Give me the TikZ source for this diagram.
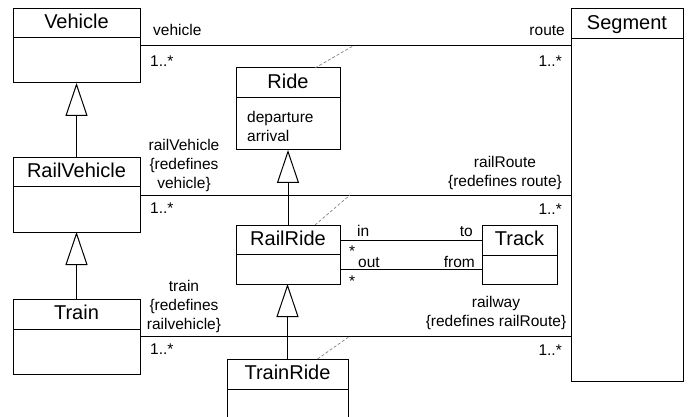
\documentclass[tikz,border=0pt]{standalone}
\usepackage{fontspec}
\setmainfont{Liberation Sans}
\usepackage{tikz}
\usetikzlibrary{positioning}
\usetikzlibrary{arrows.meta}

\newcommand{\umlname}{\fontsize{20}{24}\selectfont}
\newcommand{\umllabel}{\fontsize{15.5}{19}\selectfont}

\tikzset{
  classname/.style={draw, line width=1pt, inner sep=0pt, outer sep=0pt,
    minimum height=30pt, font=\umlname, text height=15pt, text depth=4pt},
  classbody/.style={draw, line width=1pt, inner sep=0pt, outer sep=0pt},
  role/.style={font=\umllabel, inner sep=0pt},
  assoc/.style={line width=1pt},
  inherit/.style={line width=1pt, -{Triangle[open, length=33pt, width=22pt]}},
  linkdash/.style={gray, line width=0.7pt, dash pattern=on 3pt off 2pt}
}

\begin{document}
\begin{tikzpicture}[x=1pt,y=-1pt]
  \useasboundingbox (0,0) rectangle (691,417);
  \clip (0,0) rectangle (691,417);

  % classes
  \node[classname, minimum width=127pt, minimum height=29pt] (vehhead) at (76.5,23.5) {Vehicle};
  \node[classbody, minimum width=127pt, minimum height=45pt, below=0pt of vehhead] (vehbody) {};
  \node[classname, minimum width=127pt, minimum height=29pt] (railvehhead) at (76.5,172.5) {RailVehicle};
  \node[classbody, minimum width=127pt, minimum height=45pt, below=0pt of railvehhead] (railvehbody) {};
  \node[classname, minimum width=127pt] (trainhead) at (76.5,314) {Train};
  \node[classbody, minimum width=127pt, minimum height=45pt, below=0pt of trainhead] (trainbody) {};

  \node[classname, minimum width=112pt] (seghead) at (627,24) {Segment};
  \node[classbody, minimum width=112pt, minimum height=342pt, below=0pt of seghead] (segbody) {};

  \node[classname, minimum width=104pt] (ridehead) at (288,83) {Ride};
  \node[classbody, minimum width=104pt, minimum height=52pt, below=0pt of ridehead] (ridebody) {};
  \node[role, align=left, anchor=north west] (rideattr) at (247,111) {departure\\arrival};
  \node[classname, minimum width=104pt, minimum height=29pt] (railridehead) at (288,239.5) {RailRide};
  \node[classbody, minimum width=104pt, minimum height=30pt, below=0pt of railridehead] (railridebody) {};
  \node[classname, minimum width=121pt] (trainridehead) at (287.5,374) {TrainRide};
  \node[classbody, minimum width=121pt, minimum height=40pt, below=0pt of trainridehead] (trainridebody) {};

  \node[classname, minimum width=75pt] (trackhead) at (519.5,240) {Track};
  \node[classbody, minimum width=75pt, minimum height=29pt, below=0pt of trackhead] (trackbody) {};

  % generalizations
  \draw[inherit] (railvehhead.north) -- (vehbody.south);
  \draw[inherit] (trainhead.north) -- (railvehbody.south);
  \draw[inherit] (railridehead.north) -- (ridebody.south);
  \draw[inherit] (trainridehead.north) -- (trainridehead.north |- railridebody.south);

  % associations
  \coordinate (vehend) at ([yshift=-8pt]vehbody.north east);
  \coordinate (railvehend) at ([yshift=-8pt]railvehbody.north east);
  \coordinate (trainend) at ([yshift=-7pt]trainbody.north east);
  \draw[assoc] (vehend) -- (vehend -| segbody.west);
  \draw[assoc] (railvehend) -- (railvehend -| segbody.west);
  \draw[assoc] (trainend) -- (trainend -| segbody.west);
  \draw[assoc] (railridehead.east |- trackhead.west) -- (trackhead.west);
  \draw[assoc] (railridebody.east |- trackbody.west) -- (trackbody.west);

  % association classes
  \coordinate (ridelink) at (353,46);
  \coordinate (railridelink) at (350,195);
  \coordinate (trainridelink) at (350,336);
  \draw[linkdash] ([xshift=27pt]ridehead.north) -- (ridelink);
  \draw[linkdash] ([xshift=27pt]railridehead.north) -- (railridelink);
  \draw[linkdash] ([xshift=30pt]trainridehead.north) -- (trainridelink);

  % ends
  \node[role, anchor=base west] (l1) at (153,36) {vehicle};
  \node[role, anchor=base west] (m1) at (150,67) {1..*};
  \node[role, anchor=base east] (l2) at (565,36) {route};
  \node[role, anchor=base east] (m2) at (562,67) {1..*};

  \node[role, align=center, anchor=south] (l3) at (184,192) {railVehicle\\\{redefines\\vehicle\}};
  \node[role, anchor=base west] (m3) at (150,213) {1..*};
  \node[role, align=center, anchor=south] (l4) at (505,190) {railRoute\\\{redefines route\}};
  \node[role, anchor=base east] (m4) at (562,214) {1..*};

  \node[role, align=center, anchor=south] (l5) at (184,333) {train\\\{redefines\\railvehicle\}};
  \node[role, anchor=base west] (m5) at (150,354) {1..*};
  \node[role, align=center, anchor=south] (l6) at (496,330) {railway\\\{redefines railRoute\}};
  \node[role, anchor=base east] (m6) at (562,355) {1..*};

  \node[role, anchor=base west] (l7) at (357,236) {in};
  \node[role, anchor=base east] (l8) at (473,236) {to};
  \node[role, anchor=base west] (m7) at (349,256) {*};
  \node[role, anchor=base west] (l9) at (358,267) {out};
  \node[role, anchor=base east] (l10) at (475,267) {from};
  \node[role, anchor=base west] (m8) at (349,286) {*};
\end{tikzpicture}
\end{document}
